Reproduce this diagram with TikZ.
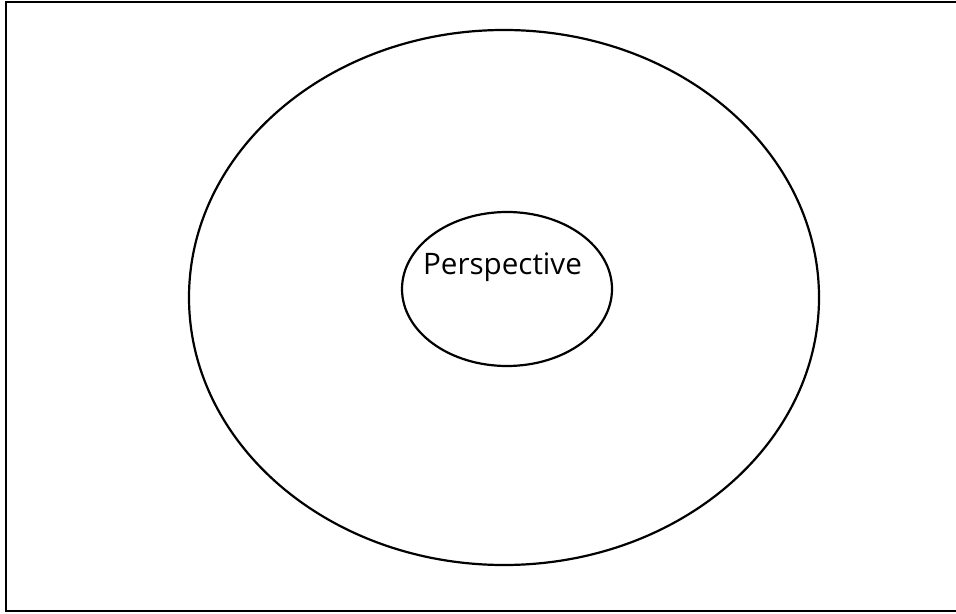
\documentclass[tikz,border=0pt]{standalone}
\usepackage{fontspec}
\setmainfont{Open Sans}
\usetikzlibrary{positioning}

\begin{document}
\begin{tikzpicture}[x=0.5pt,y=-0.5pt,line width=1.1pt,font=\fontsize{14.8}{17}\selectfont]
    \useasboundingbox (0,0) rectangle (956,614);

    % Frame (right side runs off the page)
    \draw (956,2) -- (6,2) -- (6,611) -- (956,611);

    % Outer ellipse
    \draw (504,297.5) ellipse [x radius=315, y radius=267.5];

    % Inner ellipse
    \draw (507,289) ellipse [x radius=105, y radius=77];

    % Label
    \node[anchor=base, inner sep=0pt] (persp) at (502.5,275) {Perspective};
\end{tikzpicture}
\end{document}
